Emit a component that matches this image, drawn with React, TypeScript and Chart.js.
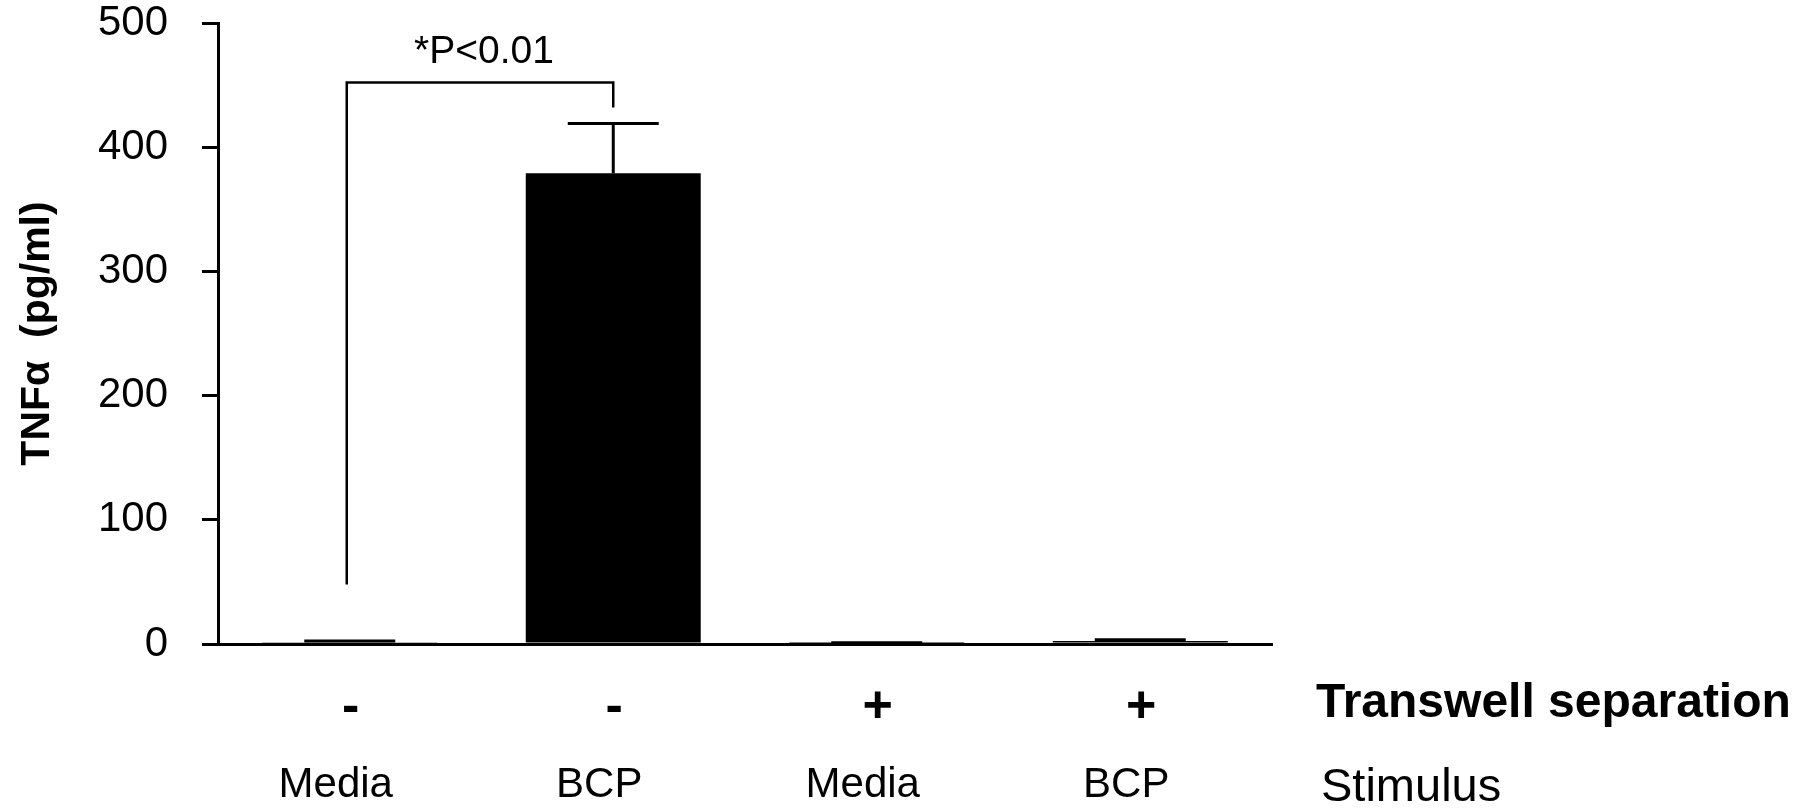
import React, { useEffect, useRef } from 'react';
import { Chart, registerables } from 'chart.js';

Chart.register(...registerables);

// ---- data ----
const categories = ['Media', 'BCP', 'Media', 'BCP'];
const separationLabels = ['-', '-', '+', '+'];
const tnfValues = [1.5, 379, 0.5, 2.5];
const tnfErrors = [1, 40, 0.5, 1];
const yTickValues = [0, 100, 200, 300, 400, 500];
const bracketBars = [0, 1];
const bracketLevels = [48, 452, 432]; // left foot, top bar, right foot
const pValueText = '*P<0.01';
const pValueLevel = 468;
const yAxisTitle = 'TNFα  (pg/ml)';
const rowTitles = ['Transwell separation', 'Stimulus'];

const FONT = "'Liberation Sans', Arial, Helvetica, sans-serif";

const overlayPlugin = {
  id: 'overlay',
  afterDatasetsDraw(chart: any) {
    const ctx = chart.ctx;
    const y = chart.scales.y;
    const meta = chart.getDatasetMeta(0);
    ctx.save();
    ctx.strokeStyle = '#000';
    ctx.lineCap = 'butt';
    // error bars
    ctx.lineWidth = 3;
    meta.data.forEach((bar: any, i: number) => {
      const top = y.getPixelForValue(tnfValues[i] + tnfErrors[i]);
      const base = y.getPixelForValue(tnfValues[i]);
      const half = bar.width * 0.26;
      ctx.beginPath();
      ctx.moveTo(bar.x, base);
      ctx.lineTo(bar.x, top);
      ctx.moveTo(bar.x - half, top);
      ctx.lineTo(bar.x + half, top);
      ctx.stroke();
    });
    // significance bracket
    const b0 = meta.data[bracketBars[0]];
    const b1 = meta.data[bracketBars[1]];
    const xl = b0.x - 3;
    const xr = b1.x;
    ctx.lineWidth = 2.5;
    ctx.beginPath();
    ctx.moveTo(xl, y.getPixelForValue(bracketLevels[0]));
    ctx.lineTo(xl, y.getPixelForValue(bracketLevels[1]));
    ctx.lineTo(xr, y.getPixelForValue(bracketLevels[1]));
    ctx.lineTo(xr, y.getPixelForValue(bracketLevels[2]));
    ctx.stroke();
    ctx.fillStyle = '#000';
    ctx.font = `39px ${FONT}`;
    ctx.textAlign = 'center';
    ctx.textBaseline = 'alphabetic';
    ctx.fillText(pValueText, (xl + xr) / 2 + 4, y.getPixelForValue(pValueLevel));
    ctx.restore();
  },
  afterDraw(chart: any) {
    const ctx = chart.ctx;
    const x = chart.scales.x;
    ctx.save();
    ctx.fillStyle = '#000';
    ctx.textBaseline = 'alphabetic';
    ctx.textAlign = 'center';
    ctx.font = `bold 52px ${FONT}`;
    separationLabels.forEach((t, i) => {
      ctx.fillText(t, x.getPixelForValue(i) + 1, 722);
    });
    ctx.font = `42px ${FONT}`;
    categories.forEach((t, i) => {
      ctx.fillText(t, x.getPixelForValue(i) - 14, 797);
    });
    ctx.textAlign = 'left';
    ctx.font = `bold 48px ${FONT}`;
    ctx.fillText(rowTitles[0], 1316, 717);
    ctx.font = `47px ${FONT}`;
    ctx.fillText(rowTitles[1], 1321, 801);
    ctx.restore();
  },
};

export default function App() {
  const ref = useRef<HTMLCanvasElement | null>(null);
  useEffect(() => {
    if (!ref.current) return;
    const chart = new Chart(ref.current, {
      type: 'bar',
      data: {
        labels: categories,
        datasets: [
          {
            data: tnfValues,
            backgroundColor: '#000',
            borderWidth: 0,
            barPercentage: 0.664,
            categoryPercentage: 1,
          },
        ],
      },
      options: {
        responsive: false,
        animation: false,
        devicePixelRatio: 1,
        layout: { padding: { top: 23, right: 540, bottom: 0, left: 0 } },
        plugins: {
          legend: { display: false },
          tooltip: { enabled: false },
        },
        scales: {
          x: {
            type: 'category',
            grid: { display: false },
            border: { display: true, color: '#000', width: 3 },
            ticks: { display: false },
            afterFit: (s: any) => {
              s.height = 167;
              s.paddingLeft = 0;
              s.paddingRight = 0;
            },
          },
          y: {
            min: 0,
            max: 500,
            afterBuildTicks: (s: any) => {
              s.ticks = yTickValues.map((v) => ({ value: v }));
            },
            grid: {
              display: true,
              drawOnChartArea: false,
              drawTicks: true,
              tickLength: 16,
              lineWidth: 3,
              color: '#000',
            },
            border: { display: true, color: '#000', width: 3 },
            ticks: {
              color: '#000',
              padding: 34,
              font: { family: FONT, size: 42, lineHeight: 1 },
            },
            title: {
              display: true,
              text: yAxisTitle,
              color: '#000',
              font: { family: FONT, size: 41, weight: 'bold' },
              padding: { top: 13, bottom: 0 },
            },
            afterFit: (s: any) => {
              s.width = 218;
              s.paddingTop = 0;
              s.paddingBottom = 0;
            },
          },
        },
      },
      plugins: [overlayPlugin],
    });
    return () => chart.destroy();
  }, []);
  return (
    <div style={{ position: 'absolute', left: 0, top: 0, width: 1812, height: 811, background: '#fff' }}>
      <canvas ref={ref} width={1812} height={811} style={{ width: 1812, height: 811, display: 'block' }} />
    </div>
  );
}
